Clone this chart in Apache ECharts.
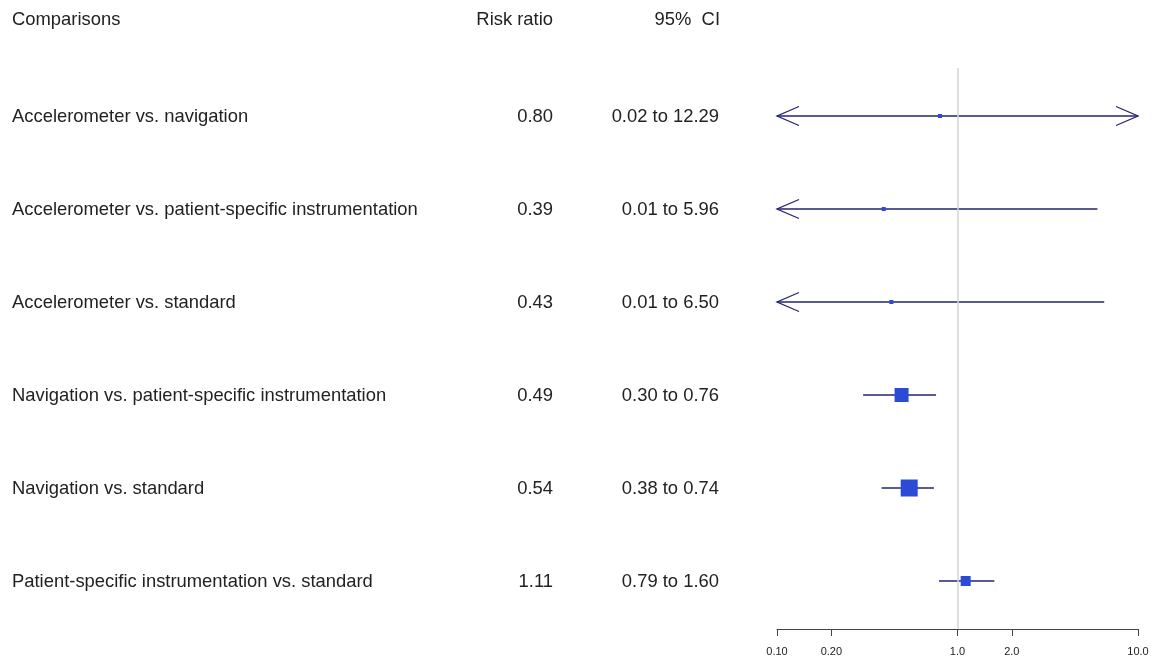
<!DOCTYPE html>
<html><head><meta charset="utf-8">
<script src="https://cdn.jsdelivr.net/npm/echarts@6/dist/echarts.min.js"></script>
<style>html,body{margin:0;padding:0;background:#fff}#c{width:1157px;height:662px}</style>
</head><body><div id="c"></div>
<script>
const comparisons = [
  'Accelerometer vs. navigation',
  'Accelerometer vs. patient-specific instrumentation',
  'Accelerometer vs. standard',
  'Navigation vs. patient-specific instrumentation',
  'Navigation vs. standard',
  'Patient-specific instrumentation vs. standard'
];
const riskRatio = [0.80, 0.39, 0.43, 0.49, 0.54, 1.11];
const ciLow = [0.02, 0.01, 0.01, 0.30, 0.38, 0.79];
const ciHigh = [12.29, 5.96, 6.50, 0.76, 0.74, 1.60];
const tickValues = [0.1, 0.2, 1, 2, 10];
const tickLabels = ['0.10', '0.20', '1.0', '2.0', '10.0'];
const headers = ['Comparisons', 'Risk ratio', '95%  CI'];

const boxSize = [4, 4, 4, 14, 17, 10];
const FONT = '"Liberation Sans", Arial, Helvetica, sans-serif';
const TXT = '#222';
const LINE = '#25256f';
const BOX = '#2b4bd6';
const XMIN = 0.1, XMAX = 10;

const chart = echarts.init(document.getElementById('c'), null, {renderer: 'canvas'});

function fmt2(v) { return v.toFixed(2); }

function renderItem(params, api) {
  const idx = params.dataIndex;
  const rr = api.value(0), y = api.value(1), lo = api.value(2), hi = api.value(3);
  const loC = Math.max(lo, XMIN), hiC = Math.min(hi, XMAX);
  const pL = api.coord([loC, y]), pR = api.coord([hiC, y]), pM = api.coord([rr, y]);
  const ls = {stroke: LINE, lineWidth: 1.3, fill: null};
  const ch = [];
  ch.push({type: 'line', shape: {x1: pL[0], y1: pL[1], x2: pR[0], y2: pR[1]}, style: ls});
  if (lo < XMIN) {
    ch.push({type: 'polyline', shape: {points: [[pL[0] + 22, pL[1] - 9.5], [pL[0], pL[1]], [pL[0] + 22, pL[1] + 9.5]]}, style: ls});
  }
  if (hi > XMAX) {
    ch.push({type: 'polyline', shape: {points: [[pR[0] - 22, pR[1] - 9.5], [pR[0], pR[1]], [pR[0] - 22, pR[1] + 9.5]]}, style: ls});
  }
  const s = boxSize[idx];
  ch.push({type: 'rect', shape: {x: pM[0] - s / 2, y: pM[1] - s / 2, width: s, height: s}, style: {fill: BOX}});
  const ts = {font: '18.4px ' + FONT, fill: TXT, verticalAlign: 'middle'};
  ch.push({type: 'text', style: Object.assign({}, ts, {text: comparisons[idx], x: 12, y: pM[1] + 0.5, align: 'left'})});
  ch.push({type: 'text', style: Object.assign({}, ts, {text: fmt2(rr), x: 553, y: pM[1] + 0.5, align: 'right'})});
  ch.push({type: 'text', style: Object.assign({}, ts, {text: fmt2(lo) + ' to ' + fmt2(hi), x: 719, y: pM[1] + 0.5, align: 'right'})});
  return {type: 'group', children: ch};
}

const option = {
  backgroundColor: '#fff',
  animation: false,
  grid: {left: 777, right: 19, top: 68, bottom: 33},
  xAxis: {
    type: 'log', logBase: 10, min: XMIN, max: XMAX,
    axisLine: {show: true, onZero: false, lineStyle: {color: '#444', width: 1}},
    axisTick: {show: true, customValues: tickValues, length: 7, lineStyle: {color: '#444', width: 1}},
    axisLabel: {
      customValues: tickValues, margin: 17, fontSize: 11, color: '#222', fontFamily: FONT,
      formatter: function (v) {
        let best = 0;
        tickValues.forEach((t, i) => { if (Math.abs(Math.log10(t) - Math.log10(v)) < Math.abs(Math.log10(tickValues[best]) - Math.log10(v))) best = i; });
        return tickLabels[best];
      }
    },
    splitLine: {show: false}, minorTick: {show: false}
  },
  yAxis: {type: 'value', inverse: true, min: -0.516, max: 5.516, show: false, splitLine: {show: false}},
  graphic: [
    {type: 'text', left: 12, top: 11, style: {text: headers[0], font: '18.4px ' + FONT, fill: TXT}},
    {type: 'text', right: 1157 - 553, top: 11, style: {text: headers[1], font: '18.4px ' + FONT, fill: TXT}},
    {type: 'text', right: 1157 - 720, top: 11, style: {text: headers[2], font: '18.4px ' + FONT, fill: TXT, whiteSpace: 'pre'}}
  ],
  series: [
    {
      type: 'line', data: [], z: 1, silent: true,
      markLine: {silent: true, symbol: 'none', animation: false, label: {show: false},
        lineStyle: {color: '#d4d4d4', width: 1.5, type: 'solid'}, data: [{xAxis: 1}]}
    },
    {
      type: 'custom', z: 3, clip: false, renderItem: renderItem,
      encode: {x: 0, y: 1},
      data: riskRatio.map((v, i) => [v, i, ciLow[i], ciHigh[i]])
    }
  ]
};
chart.setOption(option);
</script></body></html>
